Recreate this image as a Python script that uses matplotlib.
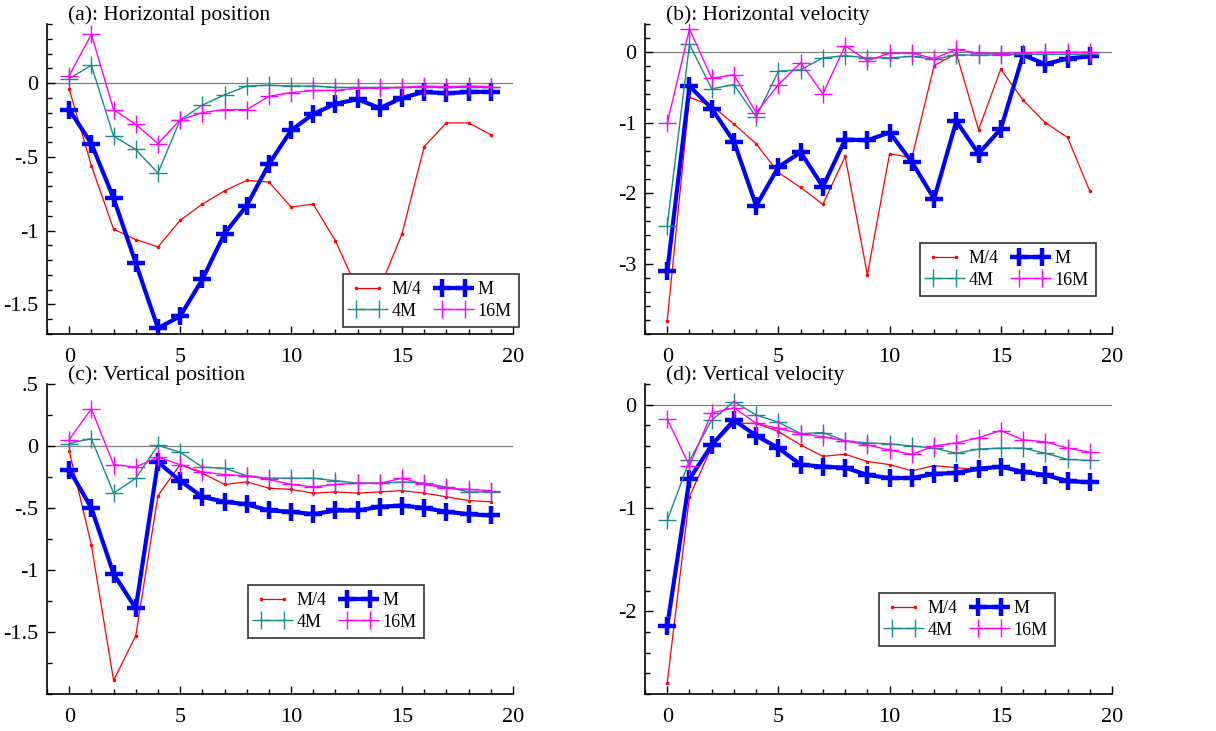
import matplotlib
matplotlib.use("Agg")
import matplotlib.pyplot as plt
from matplotlib.ticker import MultipleLocator, FixedLocator, FuncFormatter

plt.rcParams['font.family'] = ['Liberation Serif', 'DejaVu Serif']

steps = list(range(20))
series_names = ["M/4", "M", "4M", "16M"]

titles = ["(a): Horizontal position", "(b): Horizontal velocity",
          "(c): Vertical position", "(d): Vertical velocity"]

# (a) Horizontal position
a_m4 = [-0.04, -0.56, -0.99, -1.06, -1.11, -0.93, -0.82, -0.73, -0.66, -0.67,
        -0.84, -0.82, -1.07, -1.40, -1.39, -1.02, -0.43, -0.27, -0.27, -0.35]
a_m = [-0.18, -0.41, -0.78, -1.22, -1.66, -1.58, -1.33, -1.02, -0.83, -0.55,
       -0.32, -0.21, -0.14, -0.11, -0.17, -0.10, -0.06, -0.07, -0.06, -0.06]
a_4m = [0.03, 0.12, -0.36, -0.45, -0.61, -0.25, -0.15, -0.08, -0.02, -0.015,
        -0.02, -0.02, -0.03, -0.03, -0.03, -0.03, -0.03, -0.03, -0.03, -0.03]
a_16m = [0.05, 0.33, -0.18, -0.28, -0.41, -0.25, -0.20, -0.18, -0.18, -0.09,
         -0.065, -0.05, -0.05, -0.035, -0.035, -0.03, -0.02, -0.025, -0.02, -0.025]

# (b) Horizontal velocity
b_m4 = [-3.81, -0.64, -0.76, -1.02, -1.30, -1.71, -1.92, -2.16, -1.48, -3.16,
        -1.44, -1.50, -0.19, -0.02, -1.10, -0.24, -0.68, -1.00, -1.21, -1.97]
b_m = [-3.11, -0.48, -0.80, -1.27, -2.18, -1.63, -1.42, -1.91, -1.24, -1.25,
       -1.14, -1.56, -2.08, -0.98, -1.44, -1.09, -0.04, -0.17, -0.09, -0.06]
b_4m = [-2.46, 0.11, -0.52, -0.46, -0.92, -0.27, -0.25, -0.08, -0.05, -0.08,
        -0.08, -0.06, -0.10, -0.04, -0.04, -0.04, -0.03, -0.03, -0.03, -0.03]
b_16m = [-1.01, 0.33, -0.37, -0.32, -0.86, -0.46, -0.15, -0.59, 0.09, -0.12,
         -0.015, -0.015, -0.09, 0.04, -0.015, -0.02, -0.005, 0.0, 0.0, 0.0]

# (c) Vertical position
c_m4 = [-0.04, -0.80, -1.89, -1.53, -0.40, -0.15, -0.22, -0.31, -0.29, -0.34,
        -0.35, -0.38, -0.37, -0.38, -0.37, -0.36, -0.38, -0.41, -0.44, -0.45]
c_m = [-0.19, -0.50, -1.03, -1.31, -0.13, -0.28, -0.41, -0.45, -0.47, -0.52,
       -0.53, -0.55, -0.52, -0.52, -0.49, -0.48, -0.50, -0.53, -0.55, -0.56]
c_4m = [0.02, 0.06, -0.38, -0.26, 0.005, -0.05, -0.17, -0.18, -0.24, -0.26,
        -0.26, -0.26, -0.28, -0.30, -0.30, -0.29, -0.30, -0.33, -0.37, -0.37]
c_16m = [0.05, 0.30, -0.15, -0.17, -0.09, -0.15, -0.21, -0.23, -0.24, -0.27,
         -0.31, -0.33, -0.31, -0.30, -0.30, -0.26, -0.31, -0.34, -0.35, -0.36]

# (d) Vertical velocity
d_m4 = [-2.69, -0.89, -0.41, -0.18, -0.18, -0.26, -0.39, -0.50, -0.48, -0.55,
        -0.58, -0.64, -0.59, -0.61, -0.63, -0.61, -0.64, -0.68, -0.72, -0.75]
d_m = [-2.14, -0.72, -0.39, -0.15, -0.30, -0.42, -0.58, -0.60, -0.61, -0.68,
       -0.71, -0.71, -0.67, -0.66, -0.62, -0.60, -0.65, -0.68, -0.74, -0.75]
d_4m = [-1.12, -0.54, -0.15, 0.03, -0.10, -0.17, -0.28, -0.27, -0.35, -0.37,
        -0.38, -0.40, -0.42, -0.47, -0.43, -0.42, -0.42, -0.47, -0.53, -0.54]
d_16m = [-0.14, -0.59, -0.08, -0.03, -0.18, -0.23, -0.28, -0.31, -0.35, -0.39,
         -0.44, -0.48, -0.40, -0.37, -0.32, -0.25, -0.34, -0.36, -0.42, -0.46]

# labelled y ticks per panel
a_yticks = [-1.5, -1.0, -0.5, 0.0]
b_yticks = [-3, -2, -1, 0]
c_yticks = [-1.5, -1.0, -0.5, 0.0, 0.5]
d_yticks = [-2, -1, 0]

panel_data = [(a_m4, a_m, a_4m, a_16m), (b_m4, b_m, b_4m, b_16m),
              (c_m4, c_m, c_4m, c_16m), (d_m4, d_m, d_4m, d_16m)]
panel_yticks = [a_yticks, b_yticks, c_yticks, d_yticks]
ylims = [(-1.7, 0.4), (-4.0, 0.4), (-2.0, 0.5), (-2.8, 0.2)]
yminor = [0.1, 0.2, 0.25, 0.2]

W, H = 1216, 731
fig = plt.figure(figsize=(W / 100, H / 100), dpi=100)

# axes boxes in pixels: (left, top, right, bottom)
boxes = [(47, 24, 513, 334), (645, 24, 1112, 334),
         (47, 384, 513, 694), (645, 384, 1112, 694)]
# legend boxes in pixels: (left, top)
leg_pos = [(343, 274), (920, 243), (248, 585), (879, 593)]

styles = [
    dict(color='#ff0000', lw=0.9, marker='.', ms=3.5, mew=0.8),
    dict(color='#0000ff', lw=3.0, marker='+', ms=13, mew=3.2),
    dict(color='#178a8a', lw=1.0, marker='+', ms=13, mew=1.0),
    dict(color='#ff00ff', lw=1.0, marker='+', ms=13, mew=1.0),
]


def fmt(v, pos):
    if abs(v) < 1e-9:
        return "0"
    s = ("%g" % v)
    s = s.replace("0.", ".")
    return s


for i, ax_box in enumerate(boxes):
    l, t, r, b = ax_box
    ax = fig.add_axes([l / W, 1 - b / H, (r - l) / W, (b - t) / H])
    handles = []
    for name, vals, st in zip(series_names, panel_data[i], styles):
        h, = ax.plot(steps, vals, label=name, **st)
        handles.append(h)
    ax.axhline(0, color='#808080', lw=0.9, zorder=0)
    ax.set_xlim(-1, 20)
    ax.set_ylim(*ylims[i])
    ax.xaxis.set_major_locator(MultipleLocator(5))
    ax.xaxis.set_minor_locator(MultipleLocator(1))
    ax.yaxis.set_major_locator(FixedLocator(panel_yticks[i]))
    ax.yaxis.set_minor_locator(MultipleLocator(yminor[i]))
    ax.yaxis.set_major_formatter(FuncFormatter(fmt))
    ax.spines['top'].set_visible(False)
    ax.spines['right'].set_visible(False)
    for sp in ('left', 'bottom'):
        ax.spines[sp].set_linewidth(1.2)
    ax.tick_params(which='major', direction='in', length=6, width=1.0,
                   labelsize=16, pad=6)
    ax.tick_params(which='minor', direction='in', length=3.5, width=1.0)
    ax.tick_params(axis='x', which='major', pad=10)
    ax.text(0.046, 1 + 4 / (b - t), titles[i], transform=ax.transAxes,
            fontsize=15.5, ha='left', va='baseline')
    lx, ly = leg_pos[i]
    order = [handles[0], handles[2], handles[1], handles[3]]
    leg = ax.legend(order, [h.get_label() for h in order], ncol=2,
                    loc='upper left', bbox_to_anchor=(lx / W, 1 - ly / H),
                    bbox_transform=fig.transFigure, fontsize=13,
                    numpoints=2, handlelength=1.9, handletextpad=0.4,
                    columnspacing=0.8, labelspacing=0.25, borderpad=0.4,
                    borderaxespad=0,
                    fancybox=False, edgecolor='#333333', framealpha=1)
    leg.get_frame().set_linewidth(1.2)

fig.savefig("out.png", dpi=100)
